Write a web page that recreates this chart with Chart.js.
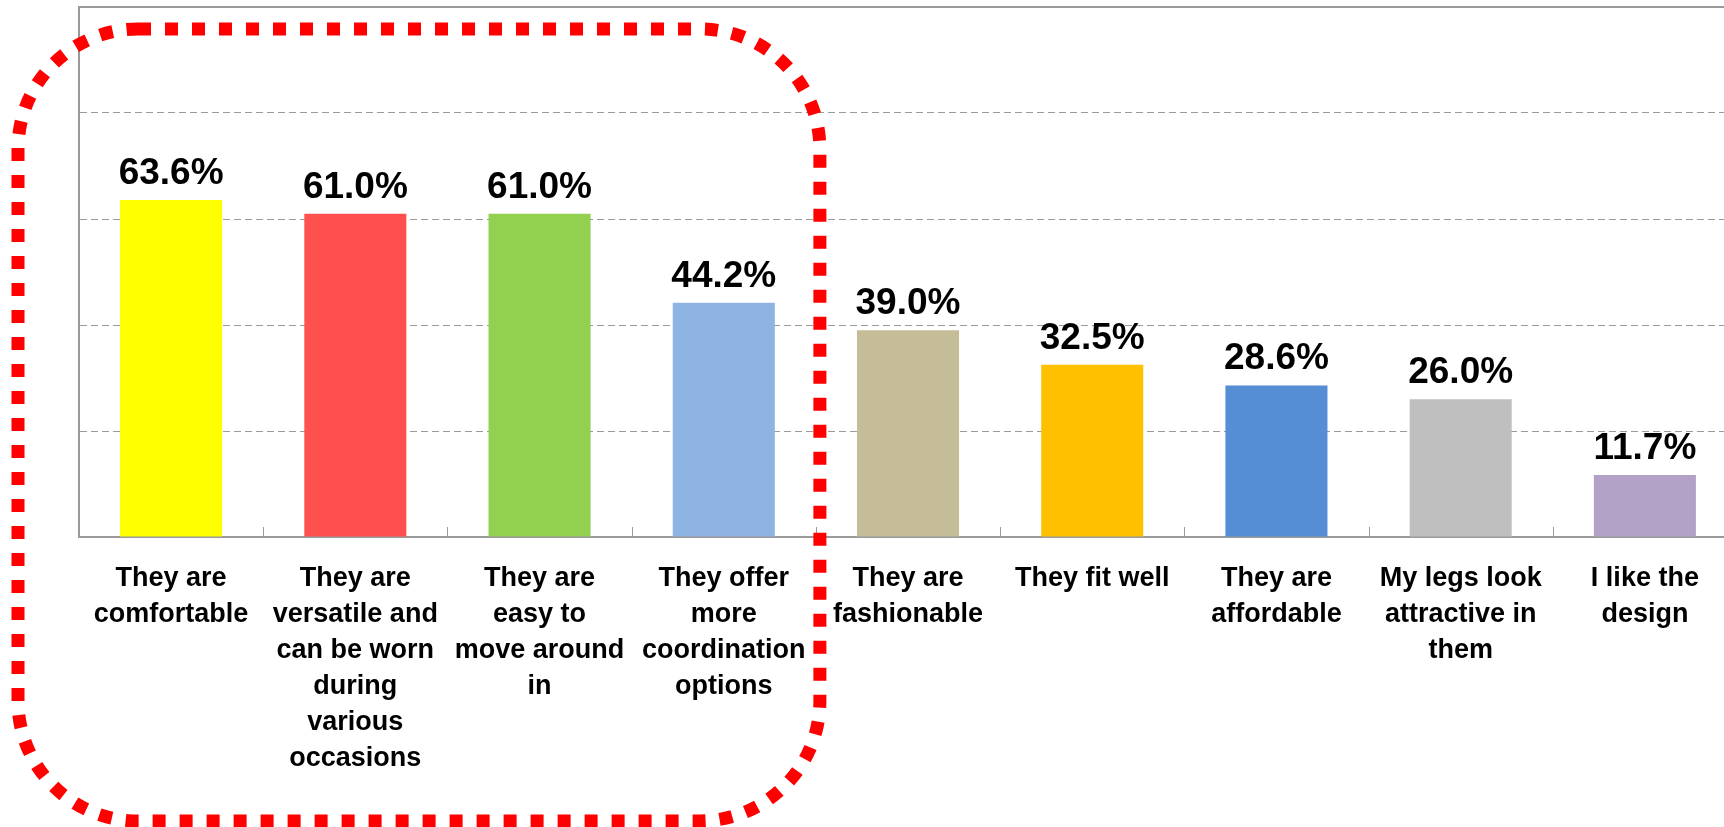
<!DOCTYPE html>
<html>
<head>
<meta charset="utf-8">
<script src="https://cdn.jsdelivr.net/npm/chart.js@4"></script>
<style>
  html, body { margin: 0; padding: 0; background: #fff; overflow: hidden; }
  #wrap { position: relative; width: 1737px; height: 827px; }
</style>
</head>
<body>
<div id="wrap"><canvas id="myChart"></canvas></div>
<script>
// Reasons for wearing them (%)
const categories = [
    ['They are', 'comfortable'],
    ['They are', 'versatile and', 'can be worn', 'during', 'various', 'occasions'],
    ['They are', 'easy to', 'move around', 'in'],
    ['They offer', 'more', 'coordination', 'options'],
    ['They are', 'fashionable'],
    ['They fit well'],
    ['They are', 'affordable'],
    ['My legs look', 'attractive in', 'them'],
    ['I like the', 'design']
];
const values = [63.6, 61.0, 61.0, 44.2, 39.0, 32.5, 28.6, 26.0, 11.7];
const barColors = ['#FFFF00', '#FF5050', '#92D050', '#8EB4E3', '#C4BD97', '#FFC000', '#558ED5', '#BFBFBF', '#B3A2C7'];
const highlighted = 4; // first N categories get the red dotted frame

const AXIS_GREY = '#9a9a9a';
const NARROW = '"Liberation Sans Narrow", "Liberation Sans", sans-serif';

// value labels above bars + inward ticks on the category axis
const barLabels = {
    id: 'barLabels',
    afterDatasetsDraw(chart) {
        const ctx = chart.ctx;
        const meta = chart.getDatasetMeta(0);
        ctx.save();
        ctx.fillStyle = '#000';
        ctx.font = 'bold 37px ' + NARROW;
        ctx.textAlign = 'center';
        ctx.textBaseline = 'alphabetic';
        meta.data.forEach((bar, i) => {
            ctx.fillText(values[i].toFixed(1) + '%', bar.x, bar.y - 16);
        });
        // small tick marks between categories
        const x = chart.scales.x;
        const bottom = chart.chartArea.bottom;
        ctx.strokeStyle = AXIS_GREY;
        ctx.lineWidth = 1;
        for (let i = 1; i < categories.length; i++) {
            const px = Math.round((x.getPixelForValue(i - 1) + x.getPixelForValue(i)) / 2) + 0.5;
            ctx.beginPath();
            ctx.moveTo(px, bottom);
            ctx.lineTo(px, bottom - 10);
            ctx.stroke();
        }
        ctx.restore();
    }
};

// red dotted rounded frame round the top group
const groupFrame = {
    id: 'groupFrame',
    afterDraw(chart) {
        const x = chart.scales.x;
        const half = (x.getPixelForValue(1) - x.getPixelForValue(0)) / 2;
        const right = x.getPixelForValue(highlighted - 1) + half + 4;
        const left = 18, top = 29, bottom = 821;
        const ctx = chart.ctx;
        ctx.save();
        ctx.strokeStyle = '#FF0000';
        ctx.lineWidth = 13;
        ctx.setLineDash([13, 14]);
        ctx.beginPath();
        ctx.roundRect(left, top, right - left, bottom - top, 120);
        ctx.stroke();
        ctx.restore();
    }
};

const data = {
    labels: categories,
    datasets: [{
        data: values,
        backgroundColor: barColors,
        borderWidth: 0,
        categoryPercentage: 0.554,
        barPercentage: 1
    }]
};

const config = {
    type: 'bar',
    data: data,
    options: {
        responsive: true,
        maintainAspectRatio: false,
        animation: false,
        layout: { padding: 0 },
        plugins: {
            legend: { display: false },
            tooltip: { enabled: false },
            title: { display: false }
        },
        scales: {
            x: {
                grid: { display: false },
                border: { color: AXIS_GREY, width: 2 },
                ticks: {
                    color: '#000',
                    padding: 16,
                    maxRotation: 0,
                    autoSkip: false,
                    font: { family: NARROW, size: 27, weight: 'bold', lineHeight: '36px' }
                },
                afterFit(scale) { scale.height = 827 - 537; }
            },
            xTop: {
                position: 'top',
                grid: { display: false },
                ticks: { display: false },
                border: { color: AXIS_GREY, width: 2 },
                afterFit(scale) { scale.height = 7; }
            },
            y: {
                min: 0,
                max: 100,
                ticks: { display: false, stepSize: 20 },
                grid: { color: AXIS_GREY, lineWidth: 1, drawTicks: false },
                border: { color: AXIS_GREY, width: 2, dash: [7, 4] },
                afterFit(scale) { scale.width = 79; }
            }
        }
    },
    plugins: [barLabels, groupFrame]
};

const ctx = document.getElementById('myChart').getContext('2d');
const myChart = new Chart(ctx, config);
</script>
</body>
</html>
